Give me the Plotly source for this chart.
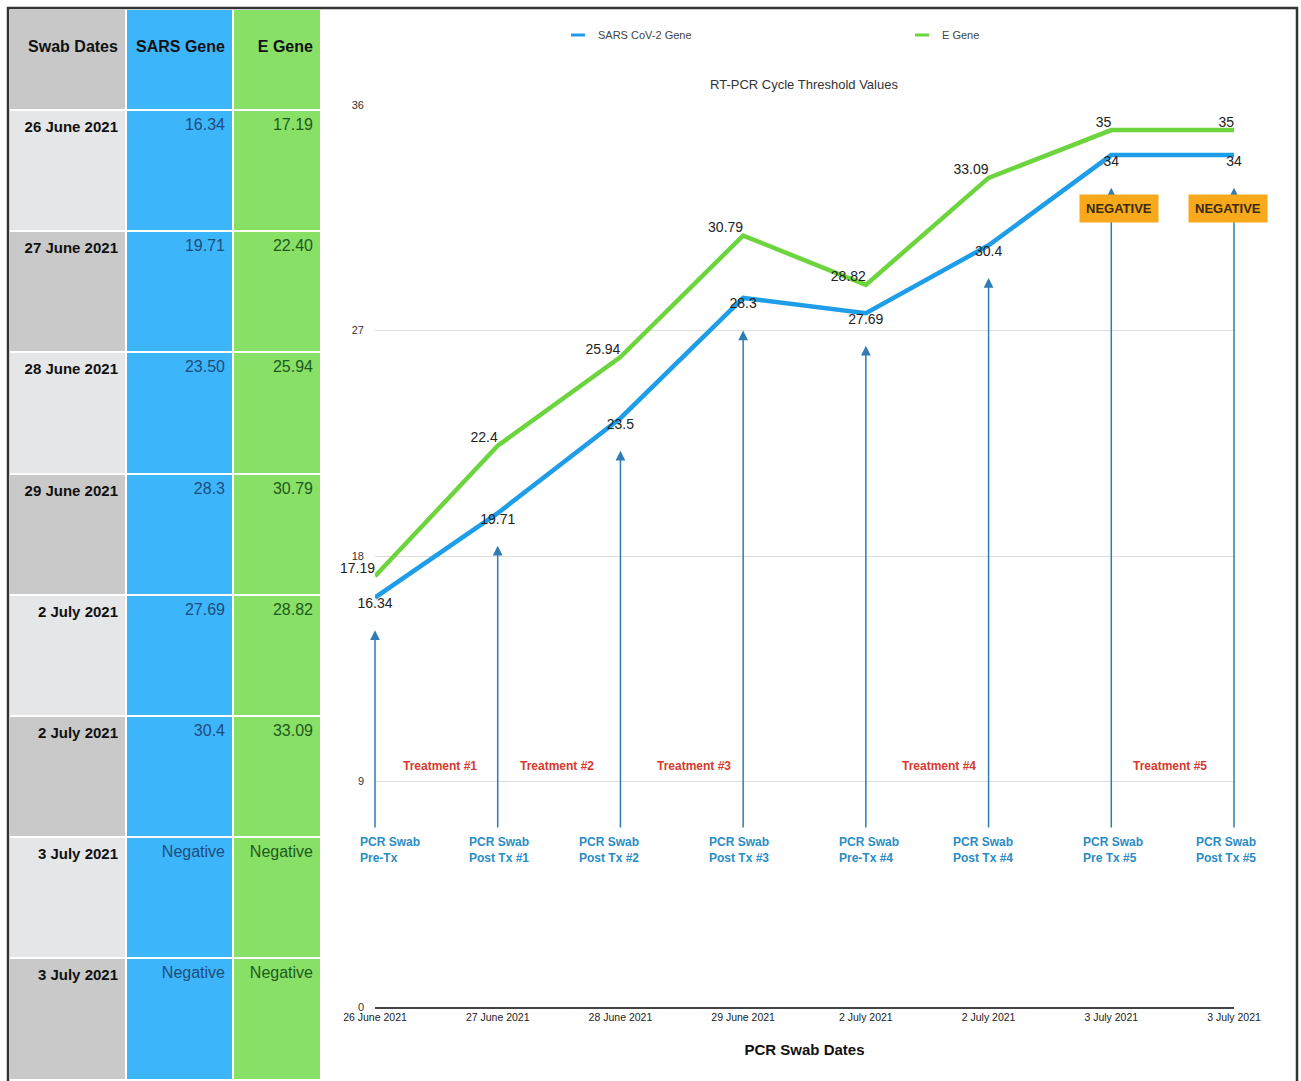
import plotly.graph_objects as go

# ---------------- data ----------------
dates = ["26 June 2021", "27 June 2021", "28 June 2021", "29 June 2021",
         "2 July 2021", "2 July 2021", "3 July 2021", "3 July 2021"]
sars_ct = [16.34, 19.71, 23.5, 28.3, 27.69, 30.4, 34, 34]
e_ct = [17.19, 22.4, 25.94, 30.79, 28.82, 33.09, 35, 35]
sars_table = ["16.34", "19.71", "23.50", "28.3", "27.69", "30.4", "Negative", "Negative"]
e_table = ["17.19", "22.40", "25.94", "30.79", "28.82", "33.09", "Negative", "Negative"]
swab_labels = ["PCR Swab<br>Pre-Tx", "PCR Swab<br>Post Tx #1", "PCR Swab<br>Post Tx #2",
               "PCR Swab<br>Post Tx #3", "PCR Swab<br>Pre-Tx #4", "PCR Swab<br>Post Tx #4",
               "PCR Swab<br>Pre Tx #5", "PCR Swab<br>Post Tx #5"]
treatments = ["Treatment #1", "Treatment #2", "Treatment #3", "Treatment #4", "Treatment #5"]
treatment_x = [0.53, 1.48, 2.6, 4.6, 6.48]
negative_idx = [6, 7]
y_ticks = [0, 9, 18, 27, 36]

# ---------------- style ----------------
W, H = 1301, 1081
FONT = "Liberation Sans, Arial, sans-serif"
BLUE = "#1e9de8"
GREEN = "#6cd43c"
ARROW = "#2f7db2"
px_x = lambda p: p / W
px_y = lambda p: 1 - p / H
nb = lambda s: s.replace(" ", "\u00a0")

x_idx = list(range(len(dates)))

fig = go.Figure()

# ---------------- table ----------------
col1_fill = ["#e5e6e8" if i % 2 == 0 else "#c9c9c9" for i in range(len(dates))]
fig.add_trace(go.Table(
    domain=dict(x=[px_x(9), px_x(321)], y=[0, px_y(9)]),
    columnwidth=[117, 107, 88],
    header=dict(
        values=["\u00a0<br><b>%s</b>" % nb(h) for h in ["Swab Dates", "SARS Gene", "E Gene"]],
        fill_color=["#c8c8c8", "#3db5fb", "#88e066"],
        align="right",
        font=dict(family=FONT, size=16, color="#111111"),
        height=101,
        line=dict(color="white", width=2),
    ),
    cells=dict(
        values=[["<b>%s</b>" % nb(d) for d in dates], sars_table, e_table],
        fill_color=[col1_fill, "#3db5fb", "#88e066"],
        align="right",
        font=dict(family=FONT, size=[15, 16, 16], color=["#111111", "#1d4d7c", "#1d5a1d"]),
        height=121.2,
        line=dict(color="white", width=2),
    ),
))

# ---------------- lines ----------------
fig.add_trace(go.Scatter(
    x=x_idx, y=e_ct, mode="lines+text", name="E Gene",
    line=dict(color=GREEN, width=4.5),
    text=[f"{v:g}" for v in e_ct], textposition="top left",
    textfont=dict(family=FONT, size=14, color="#222222"),
    cliponaxis=False, showlegend=False,
))
fig.add_trace(go.Scatter(
    x=x_idx, y=sars_ct, mode="lines+text", name="SARS CoV-2 Gene",
    line=dict(color=BLUE, width=4.5),
    text=[f"{v:g}" for v in sars_ct], textposition="bottom center",
    textfont=dict(family=FONT, size=14, color="#222222"),
    cliponaxis=False, showlegend=False,
))
# legend entries (short dash symbols)
for name, c in [("SARS CoV-2 Gene", BLUE), ("E Gene", GREEN)]:
    fig.add_trace(go.Scatter(
        x=[None], y=[None], mode="markers", name=name,
        marker=dict(symbol="line-ew", size=10, line=dict(width=3, color=c)),
    ))

annotations = []
# arrows from swab labels to points
for i, v in enumerate(sars_ct):
    annotations.append(dict(
        x=i, y=v - 1.3, ax=i, ay=7.1, xref="x", yref="y", axref="x", ayref="y",
        text="", showarrow=True, arrowhead=2, arrowsize=1.3, arrowwidth=1.5,
        arrowcolor=ARROW,
    ))
# swab labels
swab_shift = [-17, -31, -43, -36, -29, -38, -30, -40]
for i, lab in enumerate(swab_labels):
    annotations.append(dict(
        x=i, y=6.27, xref="x", yref="y", text="<b>%s</b>" % lab, showarrow=False,
        xanchor="left", yanchor="middle", align="left", xshift=swab_shift[i],
        font=dict(family=FONT, size=12, color="#2a8cc4"),
    ))
# treatment labels
for tx, lab in zip(treatment_x, treatments):
    annotations.append(dict(
        x=tx, y=9.6, xref="x", yref="y", text="<b>%s</b>" % lab, showarrow=False,
        font=dict(family=FONT, size=12, color="#d63a2f"),
    ))
# NEGATIVE boxes
neg_shift = [8, -6]
for k, i in enumerate(negative_idx):
    annotations.append(dict(
        x=i, y=31.88, xref="x", yref="y", text="<b>NEGATIVE</b>", showarrow=False,
        xshift=neg_shift[k], bgcolor="#f7a81b", borderpad=6,
        font=dict(family=FONT, size=13, color="#3a2a10"),
    ))

fig.update_layout(
    width=W, height=H,
    margin=dict(l=0, r=0, t=0, b=0, autoexpand=False),
    paper_bgcolor="white", plot_bgcolor="white",
    font=dict(family=FONT, color="#333333"),
    title=dict(text="RT-PCR Cycle Threshold Values", x=px_x(804), y=px_y(84),
               xanchor="center", yanchor="middle",
               font=dict(family=FONT, size=13, color="#333333")),
    legend=dict(orientation="h", x=px_x(558), y=px_y(35), xanchor="left", yanchor="middle",
                entrywidth=299, entrywidthmode="pixels",
                font=dict(family=FONT, size=11, color="#444444"), bgcolor="rgba(0,0,0,0)"),
    xaxis=dict(domain=[px_x(375), px_x(1234)], range=[0, 7], automargin=False,
               tickvals=x_idx, ticktext=dates, showgrid=False, zeroline=False,
               showline=True, linecolor="#444444", linewidth=1.5,
               tickfont=dict(family=FONT, size=10.5, color="#222222"),
               title=dict(text="<b>PCR Swab Dates</b>", standoff=22,
                          font=dict(family=FONT, size=15, color="#111111"))),
    yaxis=dict(domain=[px_y(1007), px_y(105)], range=[0, 36], automargin=False,
               tickvals=y_ticks, showgrid=True, gridcolor="#dddddd", gridwidth=1,
               zeroline=False, showline=False, ticklabelstandoff=10,
               tickfont=dict(family=FONT, size=11, color="#333333")),
    annotations=annotations,
    shapes=[dict(type="rect", xref="paper", yref="paper",
                 x0=px_x(8), x1=px_x(1297), y0=-0.02, y1=px_y(8),
                 line=dict(color="#333333", width=2.5), fillcolor="rgba(0,0,0,0)",
                 layer="above")],
)

fig.write_html("out.html", config={"displayModeBar": False},
               post_script="document.body.style.margin='0';document.body.style.overflow='hidden';")
